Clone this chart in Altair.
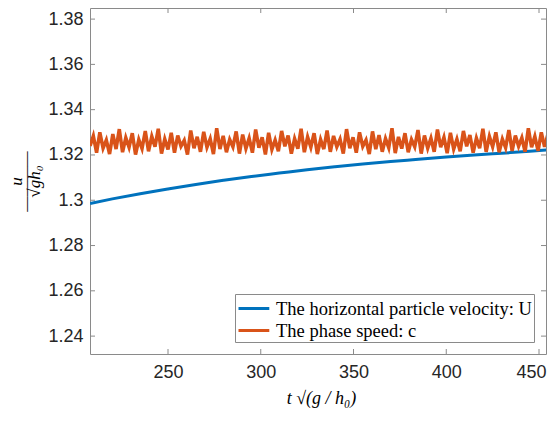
import altair as alt
import pandas as pd

# --- data -------------------------------------------------------------------
series_names = ["The horizontal particle velocity: U", "The phase speed: c"]
series_colors = ["#0072BD", "#D95319"]

t_u = [208, 220, 235, 250, 265, 280, 295, 310, 325, 340, 355, 370, 385, 400,
       415, 430, 445, 457]
u_vals = [1.2986, 1.3006, 1.3029, 1.3050, 1.3070, 1.3088, 1.3105, 1.3120,
          1.3135, 1.3148, 1.3160, 1.3171, 1.3181, 1.3191, 1.3200, 1.3208,
          1.3216, 1.3224]

t_c = [208.0, 209.75, 211.5, 213.25, 215.0, 216.75, 218.5, 220.25, 222.0, 223.75,
       225.5, 227.25, 229.0, 230.75, 232.5, 234.25, 236.0, 237.75, 239.5, 241.25,
       243.0, 244.75, 246.5, 248.25, 250.0, 251.75, 253.5, 255.25, 257.0, 258.75,
       260.5, 262.25, 264.0, 265.75, 267.5, 269.25, 271.0, 272.75, 274.5, 276.25,
       278.0, 279.75, 281.5, 283.25, 285.0, 286.75, 288.5, 290.25, 292.0, 293.75,
       295.5, 297.25, 299.0, 300.75, 302.5, 304.25, 306.0, 307.75, 309.5, 311.25,
       313.0, 314.75, 316.5, 318.25, 320.0, 321.75, 323.5, 325.25, 327.0, 328.75,
       330.5, 332.25, 334.0, 335.75, 337.5, 339.25, 341.0, 342.75, 344.5, 346.25,
       348.0, 349.75, 351.5, 353.25, 355.0, 356.75, 358.5, 360.25, 362.0, 363.75,
       365.5, 367.25, 369.0, 370.75, 372.5, 374.25, 376.0, 377.75, 379.5, 381.25,
       383.0, 384.75, 386.5, 388.25, 390.0, 391.75, 393.5, 395.25, 397.0, 398.75,
       400.5, 402.25, 404.0, 405.75, 407.5, 409.25, 411.0, 412.75, 414.5, 416.25,
       418.0, 419.75, 421.5, 423.25, 425.0, 426.75, 428.5, 430.25, 432.0, 433.75,
       435.5, 437.25, 439.0, 440.75, 442.5, 444.25, 446.0, 447.75, 449.5, 451.25,
       453.0, 454.75, 456.5]
c_vals = [1.3240, 1.3284, 1.3210, 1.3300, 1.3230, 1.3266, 1.3204, 1.3292,
          1.3226, 1.3314, 1.3212, 1.3276, 1.3234, 1.3296, 1.3202, 1.3268,
          1.3228, 1.3306, 1.3216, 1.3282, 1.3236, 1.3316, 1.3206, 1.3270,
          1.3224, 1.3298, 1.3210, 1.3286, 1.3238, 1.3264, 1.3202, 1.3308,
          1.3230, 1.3280, 1.3214, 1.3302, 1.3234, 1.3272, 1.3204, 1.3318,
          1.3226, 1.3284, 1.3212, 1.3268, 1.3236, 1.3304, 1.3206, 1.3290,
          1.3228, 1.3274, 1.3210, 1.3312, 1.3232, 1.3278, 1.3202, 1.3298,
          1.3224, 1.3266, 1.3216, 1.3306, 1.3238, 1.3286, 1.3206, 1.3272,
          1.3228, 1.3316, 1.3212, 1.3280, 1.3234, 1.3296, 1.3204, 1.3268,
          1.3226, 1.3308, 1.3214, 1.3284, 1.3236, 1.3270, 1.3206, 1.3314,
          1.3230, 1.3278, 1.3210, 1.3300, 1.3238, 1.3266, 1.3204, 1.3304,
          1.3226, 1.3288, 1.3214, 1.3272, 1.3232, 1.3318, 1.3208, 1.3280,
          1.3228, 1.3296, 1.3212, 1.3268, 1.3236, 1.3310, 1.3206, 1.3286,
          1.3230, 1.3274, 1.3214, 1.3312, 1.3234, 1.3278, 1.3208, 1.3298,
          1.3226, 1.3270, 1.3216, 1.3306, 1.3238, 1.3288, 1.3210, 1.3274,
          1.3230, 1.3316, 1.3214, 1.3282, 1.3236, 1.3300, 1.3212, 1.3270,
          1.3232, 1.3310, 1.3218, 1.3286, 1.3238, 1.3276, 1.3214, 1.3318,
          1.3234, 1.3282, 1.3218, 1.3300, 1.3236, 1.3290, 1.3226]

x_ticks = [250, 300, 350, 400, 450]
y_ticks = [1.24, 1.26, 1.28, 1.30, 1.32, 1.34, 1.36, 1.38]
x_domain = [207.95, 453.77]
y_domain = [1.2321, 1.3849]

# --- build tables -------------------------------------------------------------
df_u = pd.DataFrame({"t": t_u, "value": u_vals, "series": series_names[0]})
df_c = pd.DataFrame({"t": t_c, "value": c_vals, "series": series_names[1]})
df_xt = pd.DataFrame({"t": x_ticks})
df_yt = pd.DataFrame({"value": y_ticks})

W, H = 456, 346
GRAY = "#8a8a8a"
TXT = "#262626"

x_enc = alt.X(
    "t:Q",
    scale=alt.Scale(domain=x_domain, nice=False, zero=False),
    axis=alt.Axis(values=x_ticks, title="t √(g / h₀)", labelPadding=9,
                  labelOffset={"condition": {"test": "datum.value >= 450",
                                             "value": -8},
                               "value": 0},
                  titlePadding=8, titleFont="Liberation Serif",
                  titleFontStyle="italic", titleFontWeight="normal",
                  titleFontSize=18, titleColor="black", titleX=231),
)
y_enc = alt.Y(
    "value:Q",
    scale=alt.Scale(domain=y_domain, nice=False, zero=False),
    axis=alt.Axis(values=y_ticks, format="~g",
                  title=["u", "————", "√gh₀"], labelPadding=7,
                  titlePadding=4, titleFont="Liberation Serif",
                  titleFontStyle="italic", titleFontWeight="normal",
                  titleFontSize=17, titleLineHeight=9, titleColor="black"),
)
color_enc = alt.Color(
    "series:N",
    scale=alt.Scale(domain=series_names, range=series_colors),
    legend=alt.Legend(
        title=None, orient="none", legendX=145, legendY=286,
        symbolType="M-1,0L1.8,0", symbolStrokeWidth=3, symbolSize=484,
        labelFont="Liberation Serif", labelFontSize=18.5, labelColor="black",
        labelLimit=0, labelOffset=14, padding=2, rowPadding=0,
        strokeColor=GRAY, fillColor="white",
    ),
)

line_u = alt.Chart(df_u).mark_line(strokeWidth=3, interpolate="monotone",
                                   clip=True).encode(
    x=x_enc, y=y_enc, color=color_enc)
line_c = alt.Chart(df_c).mark_line(strokeWidth=3.5, clip=True).encode(
    x=alt.X("t:Q"), y=alt.Y("value:Q"), color=alt.Color("series:N"))

tick_left = alt.Chart(df_yt).mark_rule(color=GRAY).encode(
    y="value:Q", x=alt.value(0), x2=alt.value(5))
tick_right = alt.Chart(df_yt).mark_rule(color=GRAY).encode(
    y="value:Q", x=alt.value(W - 5), x2=alt.value(W))
tick_bottom = alt.Chart(df_xt).mark_rule(color=GRAY).encode(
    x="t:Q", y=alt.value(H - 5), y2=alt.value(H))
tick_top = alt.Chart(df_xt).mark_rule(color=GRAY).encode(
    x="t:Q", y=alt.value(0), y2=alt.value(5))

chart = alt.layer(line_u, line_c, tick_left, tick_right, tick_bottom, tick_top).properties(
    width=W, height=H,
    autosize=alt.AutoSizeParams(type="none"),
    padding={"left": 82, "top": 0, "right": 1, "bottom": 55},
    background="white",
).configure_view(
    stroke=GRAY, strokeWidth=1,
).configure_axis(
    domain=False, ticks=False, grid=False,
    labelFont="Liberation Sans", labelFontSize=18, labelColor=TXT,
)

chart.save("out.html", embed_options={"renderer": "svg", "actions": False})
